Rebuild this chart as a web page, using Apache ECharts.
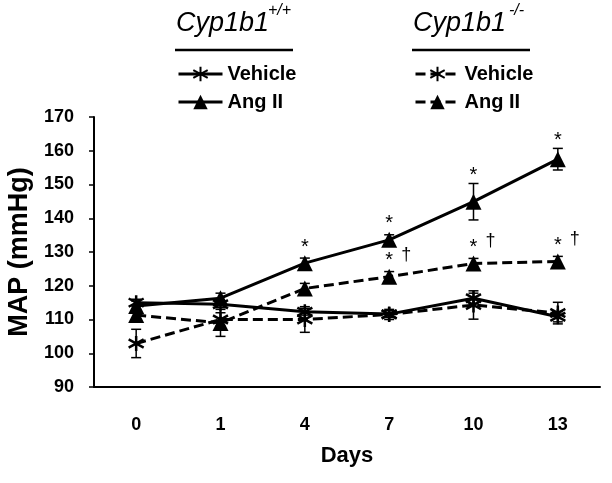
<!DOCTYPE html>
<html>
<head>
<meta charset="utf-8">
<script src="https://cdn.jsdelivr.net/npm/echarts@6/dist/echarts.min.js"></script>
<style>
  html, body { margin: 0; padding: 0; background: #fff; }
  #chart { width: 612px; height: 483px; }
</style>
</head>
<body>
<div id="chart"></div>
<script>
// ── data ────────────────────────────────────────────────────────────────
const days = ['0', '1', '4', '7', '10', '13']
const yTicks = { min: 90, max: 170, interval: 10 }

const wtVehicle = [115.0, 114.5, 112.3, 111.6, 116.3, 110.8]
const wtAngII   = [114.0, 116.3, 126.7, 133.6, 144.9, 157.5]
const koVehicle = [102.9, 110.0, 110.0, 111.5, 114.3, 111.9]
const koAngII   = [111.3, 109.0, 119.2, 122.7, 126.6, 127.2]

const wtVehicleErr = [1.0, 1.0, 1.0, 1.0, 1.5, 1.5]
const wtAngIIErr   = [1.5, 1.5, 1.5, 1.5, 5.4, 3.2]
const koVehicleErr = [4.2, 2.0, 3.8, 1.5, 4.2, 3.2]
const koAngIIErr   = [1.5, 4.0, 1.5, 1.5, 1.5, 1.5]

const wtAngIIStar   = ['', '', '*', '*', '*', '*']
const koAngIIStar   = ['', '', '', '*', '*', '*']
const koAngIIDagger = ['', '', '', '†', '†', '†']

// ── helpers ─────────────────────────────────────────────────────────────
const FONT = '"Liberation Sans", Arial, sans-serif'
const ASTER = 'path://M10,0L10,20M1.5,4.5L18.5,15.5M1.5,15.5L18.5,4.5'

function lineSeries(name, values, dashed, symbol) {
  const isAster = symbol === ASTER
  return {
    type: 'line',
    name,
    data: values,
    symbol,
    symbolSize: isAster ? 15 : 16,
    z: isAster ? 4 : 5,
    lineStyle: { color: '#000', width: 3, type: dashed ? [10, 5] : 'solid' },
    itemStyle: {
      color: '#000',
      borderColor: '#000',
      borderWidth: isAster ? 2.5 : 0,
    },
    emphasis: { disabled: true },
    animation: false,
  }
}

function errorSeries(values, errs, stars, daggers) {
  return {
    type: 'custom',
    z: 6,
    silent: true,
    animation: false,
    data: values.map((v, i) => [i, v - errs[i], v + errs[i], v]),
    renderItem: (params, api) => {
      const i = api.value(0)
      const lo = api.coord([i, api.value(1)])
      const hi = api.coord([i, api.value(2)])
      const c  = api.coord([i, api.value(3)])
      const w = 5
      const st = { stroke: '#000', lineWidth: 1.5 }
      const children = [
        { type: 'line', shape: { x1: lo[0], y1: lo[1], x2: hi[0], y2: hi[1] }, style: st },
        { type: 'line', shape: { x1: lo[0] - w, y1: lo[1], x2: lo[0] + w, y2: lo[1] }, style: st },
        { type: 'line', shape: { x1: hi[0] - w, y1: hi[1], x2: hi[0] + w, y2: hi[1] }, style: st },
      ]
      const idx = params.dataIndex
      const ty = Math.min(hi[1] - 13, c[1] - 21)
      if (stars && stars[idx]) {
        children.push({
          type: 'text',
          style: {
            text: stars[idx], x: c[0], y: ty + 5,
            align: 'center', verticalAlign: 'middle',
            font: '20px ' + FONT, fill: '#000',
          },
        })
      }
      if (daggers && daggers[idx]) {
        children.push({
          type: 'text',
          style: {
            text: daggers[idx], x: c[0] + 17, y: ty - 1,
            align: 'center', verticalAlign: 'middle',
            font: '18px ' + FONT, fill: '#000',
          },
        })
      }
      return { type: 'group', children }
    },
  }
}

const chart = echarts.init(document.getElementById('chart'), null, { renderer: 'canvas' })

const legendBase = {
  orient: 'vertical',
  top: 59,
  itemWidth: 44,
  itemHeight: 18,
  itemGap: 8,
  selectedMode: false,
  lineStyle: { width: 3 },
  textStyle: { fontFamily: FONT, fontWeight: 'bold', fontSize: 20, color: '#000' },
  formatter: name => name.replace(/^(WT|KO) /, ''),
}

chart.setOption({
  animation: false,
  backgroundColor: '#fff',
  grid: { left: 94, right: 12, top: 117, bottom: 96, outerBoundsMode: 'none' },
  legend: [
    { ...legendBase, left: 172, data: ['WT Vehicle', 'WT Ang II'] },
    { ...legendBase, left: 409, data: ['KO Vehicle', 'KO Ang II'] },
  ],
  graphic: [
    { type: 'text', left: 176, top: 10, style: { text: 'Cyp1b1', font: 'italic 27px ' + FONT, fill: '#000' } },
    { type: 'text', left: 268, top: 3, style: { text: '+/+', font: 'italic 16px ' + FONT, fill: '#000' } },
    { type: 'line', shape: { x1: 175, y1: 50, x2: 293, y2: 50 }, style: { stroke: '#000', lineWidth: 2.5 } },
    { type: 'text', left: 413, top: 10, style: { text: 'Cyp1b1', font: 'italic 27px ' + FONT, fill: '#000' } },
    { type: 'text', left: 509, top: 3, style: { text: '-/-', font: 'italic 16px ' + FONT, fill: '#000' } },
    { type: 'line', shape: { x1: 412, y1: 50, x2: 530, y2: 50 }, style: { stroke: '#000', lineWidth: 2.5 } },
  ],
  xAxis: [
    {
      type: 'category',
      data: days,
      boundaryGap: true,
      name: 'Days',
      nameLocation: 'middle',
      nameGap: 58,
      nameTextStyle: { fontFamily: FONT, fontWeight: 'bold', fontSize: 22, color: '#000' },
      axisLine: { lineStyle: { color: '#000', width: 2 } },
      axisTick: { alignWithLabel: true, length: 6, lineStyle: { color: '#000', width: 1.5 } },
      axisLabel: { margin: 29, fontFamily: FONT, fontWeight: 'bold', fontSize: 18, color: '#000' },
      splitLine: { show: false },
    },
    {
      type: 'category',
      data: days,
      boundaryGap: true,
      position: 'bottom',
      axisLine: { show: false },
      axisTick: { alignWithLabel: true, inside: true, length: 6, lineStyle: { color: '#000', width: 1.5 } },
      axisLabel: { show: false },
      splitLine: { show: false },
    },
  ],
  yAxis: {
    type: 'value',
    min: yTicks.min,
    max: yTicks.max,
    interval: yTicks.interval,
    name: 'MAP (mmHg)',
    nameLocation: 'middle',
    nameRotate: 90,
    nameGap: 58,
    nameTextStyle: { fontFamily: FONT, fontWeight: 'bold', fontSize: 27, color: '#000' },
    axisLine: { show: true, lineStyle: { color: '#000', width: 2 } },
    axisTick: { show: true, length: 5, lineStyle: { color: '#000', width: 1.5 } },
    axisLabel: { margin: 20, fontFamily: FONT, fontWeight: 'bold', fontSize: 18, color: '#000' },
    splitLine: { show: false },
  },
  series: [
    lineSeries('WT Vehicle', wtVehicle, false, ASTER),
    lineSeries('WT Ang II', wtAngII, false, 'triangle'),
    lineSeries('KO Vehicle', koVehicle, true, ASTER),
    lineSeries('KO Ang II', koAngII, true, 'triangle'),
    errorSeries(wtVehicle, wtVehicleErr),
    errorSeries(wtAngII, wtAngIIErr, wtAngIIStar),
    errorSeries(koVehicle, koVehicleErr),
    errorSeries(koAngII, koAngIIErr, koAngIIStar, koAngIIDagger),
  ],
})
</script>
</body>
</html>
